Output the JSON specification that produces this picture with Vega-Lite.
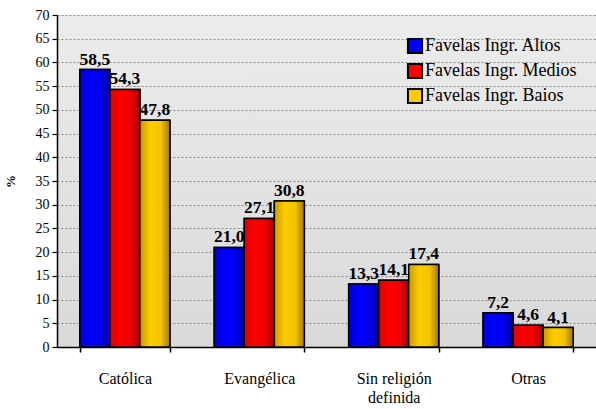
{
  "$schema": "https://vega.github.io/schema/vega-lite/v6.json",
  "autosize": {"type": "none"},
  "width": 539,
  "height": 332,
  "padding": {"left": 57, "top": 15, "right": 0, "bottom": 62},
  "background": "white",
  "data": {"values": [
    {"cat": "Católica", "serie": "Favelas Ingr. Altos", "v": 58.5},
    {"cat": "Católica", "serie": "Favelas Ingr. Medios", "v": 54.3},
    {"cat": "Católica", "serie": "Favelas Ingr. Baios", "v": 47.8},
    {"cat": "Evangélica", "serie": "Favelas Ingr. Altos", "v": 21.0},
    {"cat": "Evangélica", "serie": "Favelas Ingr. Medios", "v": 27.1},
    {"cat": "Evangélica", "serie": "Favelas Ingr. Baios", "v": 30.8},
    {"cat": "Sin religión definida", "serie": "Favelas Ingr. Altos", "v": 13.3},
    {"cat": "Sin religión definida", "serie": "Favelas Ingr. Medios", "v": 14.1},
    {"cat": "Sin religión definida", "serie": "Favelas Ingr. Baios", "v": 17.4},
    {"cat": "Otras", "serie": "Favelas Ingr. Altos", "v": 7.2},
    {"cat": "Otras", "serie": "Favelas Ingr. Medios", "v": 4.6},
    {"cat": "Otras", "serie": "Favelas Ingr. Baios", "v": 4.1}
  ]},
  "transform": [{"calculate": "replace(format(datum.v, '.1f'), '.', ',')", "as": "lbl"}],
  "encoding": {
    "x": {
      "field": "cat", "type": "nominal",
      "sort": ["Católica", "Evangélica", "Sin religión definida", "Otras"],
      "scale": {"paddingInner": 0.33, "paddingOuter": 0.17},
      "axis": {
        "title": null, "labelAngle": 0, "labelFontSize": 16, "labelFont": "Liberation Serif",
        "labelColor": "black", "labelPadding": 18, "labelLineHeight": 19,
        "labelExpr": "datum.label == 'Sin religión definida' ? ['Sin religión', 'definida'] : datum.label",
        "tickBand": "extent", "tickSize": 5, "tickColor": "black", "tickWidth": 1.5,
        "domainColor": "black", "domainWidth": 1.5, "grid": false
      }
    },
    "xOffset": {
      "field": "serie", "type": "nominal",
      "sort": ["Favelas Ingr. Altos", "Favelas Ingr. Medios", "Favelas Ingr. Baios"],
      "scale": {"domain": ["Favelas Ingr. Altos", "Favelas Ingr. Medios", "Favelas Ingr. Baios"], "paddingInner": 0, "paddingOuter": 0}
    },
    "y": {
      "field": "v", "type": "quantitative",
      "scale": {"domain": [0, 70]},
      "axis": {
        "title": "%", "titleFont": "Liberation Serif", "titleFontSize": 13, "titleFontWeight": "bold",
        "titleColor": "black", "titlePadding": 18,
        "values": [0, 5, 10, 15, 20, 25, 30, 35, 40, 45, 50, 55, 60, 65, 70],
        "labelFont": "Liberation Serif", "labelFontSize": 14, "labelColor": "black", "labelPadding": 3,
        "tickSize": 5, "tickColor": "black", "tickWidth": 1.2,
        "domainColor": "black", "domainWidth": 1.5,
        "grid": true, "gridColor": "#8a8a8a", "gridDash": [2, 2], "gridWidth": 1
      }
    }
  },
  "layer": [
    {
      "mark": {"type": "bar", "stroke": "black", "strokeWidth": 1.5},
      "encoding": {
        "color": {
          "field": "serie", "type": "nominal",
          "sort": ["Favelas Ingr. Altos", "Favelas Ingr. Medios", "Favelas Ingr. Baios"],
          "scale": {"domain": ["Favelas Ingr. Altos", "Favelas Ingr. Medios", "Favelas Ingr. Baios"], "range": ["#0000ff", "#ff0000", "#ffcc00"]},
          "legend": {
            "title": null, "orient": "none", "legendX": 349, "legendY": 22,
            "symbolType": "square", "symbolSize": 200, "symbolStrokeColor": "black", "symbolStrokeWidth": 2,
            "symbolOpacity": 1,
            "labelFont": "Liberation Serif", "labelFontSize": 18, "labelColor": "black", "labelOffset": 1,
            "labelLimit": 300, "rowPadding": 1
          }
        }
      }
    },
    {
      "transform": [{"filter": "datum.serie == 'Favelas Ingr. Altos'"}],
      "mark": {"type": "bar", "stroke": "black", "strokeWidth": 1.5,
        "color": {"gradient": "linear", "x1": 0, "x2": 1, "y1": 0, "y2": 0,
          "stops": [{"offset": 0, "color": "#0000d8"}, {"offset": 0.35, "color": "#0000ff"}, {"offset": 0.7, "color": "#0000f0"}, {"offset": 1, "color": "#00009a"}]}}
    },
    {
      "transform": [{"filter": "datum.serie == 'Favelas Ingr. Medios'"}],
      "mark": {"type": "bar", "stroke": "black", "strokeWidth": 1.5,
        "color": {"gradient": "linear", "x1": 0, "x2": 1, "y1": 0, "y2": 0,
          "stops": [{"offset": 0, "color": "#e00000"}, {"offset": 0.35, "color": "#ff0000"}, {"offset": 0.7, "color": "#f00000"}, {"offset": 1, "color": "#a00000"}]}}
    },
    {
      "transform": [{"filter": "datum.serie == 'Favelas Ingr. Baios'"}],
      "mark": {"type": "bar", "stroke": "black", "strokeWidth": 1.5,
        "color": {"gradient": "linear", "x1": 0, "x2": 1, "y1": 0, "y2": 0,
          "stops": [{"offset": 0, "color": "#c89a00"}, {"offset": 0.35, "color": "#ffcc00"}, {"offset": 0.7, "color": "#f5c200"}, {"offset": 1, "color": "#a07800"}]}}
    },
    {
      "mark": {"type": "text", "font": "Liberation Serif", "fontSize": 17.5, "fontWeight": "bold", "color": "black", "baseline": "alphabetic", "dy": -5},
      "encoding": {"text": {"field": "lbl"}}
    }
  ],
  "config": {
    "font": "Liberation Serif",
    "view": {
      "stroke": null,
      "fill": {"gradient": "linear", "x1": 0, "x2": 0, "y1": 0, "y2": 1,
        "stops": [{"offset": 0, "color": "#ececec"}, {"offset": 1, "color": "#d9d9d9"}]}
    }
  }
}
